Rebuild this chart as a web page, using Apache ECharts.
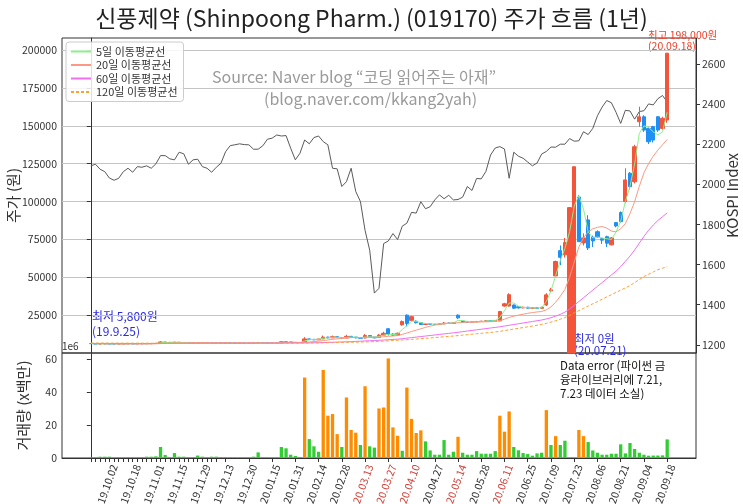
<!DOCTYPE html>
<html><head><meta charset="utf-8">
<script src="https://cdn.jsdelivr.net/npm/echarts@6/dist/echarts.min.js"></script>
<style>html,body{margin:0;padding:0;background:#fff}#c{width:743px;height:504px}</style>
</head><body><div id="c"></div>
<script>
const dates = ['19.09.20','19.09.24','19.09.26','19.09.30','19.10.02','19.10.07','19.10.10','19.10.14','19.10.16','19.10.18',
'19.10.22','19.10.24','19.10.28','19.10.30','19.11.01','19.11.05','19.11.07','19.11.11','19.11.13','19.11.15',
'19.11.19','19.11.21','19.11.25','19.11.27','19.11.29','19.12.03','19.12.05','19.12.09','19.12.11','19.12.13',
'19.12.17','19.12.19','19.12.23','19.12.26','19.12.30','20.01.03','20.01.07','20.01.09','20.01.13','20.01.15',
'20.01.17','20.01.21','20.01.23','20.01.29','20.01.31','20.02.04','20.02.06','20.02.10','20.02.12','20.02.14',
'20.02.18','20.02.20','20.02.24','20.02.26','20.02.28','20.03.03','20.03.05','20.03.09','20.03.11','20.03.13',
'20.03.17','20.03.19','20.03.23','20.03.25','20.03.27','20.03.31','20.04.02','20.04.06','20.04.08','20.04.10',
'20.04.14','20.04.17','20.04.21','20.04.23','20.04.27','20.04.29','20.05.06','20.05.08','20.05.12','20.05.14',
'20.05.18','20.05.20','20.05.22','20.05.26','20.05.28','20.06.01','20.06.03','20.06.05','20.06.09','20.06.11',
'20.06.15','20.06.17','20.06.19','20.06.23','20.06.25','20.06.29','20.07.01','20.07.03','20.07.07','20.07.09',
'20.07.13','20.07.15','20.07.17','20.07.21','20.07.23','20.07.27','20.07.29','20.07.31','20.08.04','20.08.06',
'20.08.10','20.08.12','20.08.14','20.08.19','20.08.21','20.08.25','20.08.27','20.08.31','20.09.02','20.09.04',
'20.09.08','20.09.10','20.09.14','20.09.16','20.09.18'];

const tickLabels = ['19.10.02','19.10.18','19.11.01','19.11.15','19.11.29','19.12.13','19.12.30','20.01.15','20.01.31',
'20.02.14','20.02.28','20.03.13','20.03.27','20.04.10','20.04.27','20.05.14','20.05.28','20.06.11','20.06.25',
'20.07.09','20.07.23','20.08.06','20.08.21','20.09.04','20.09.18'];
const redTickLabels = ['20.03.13','20.03.27','20.04.10','20.05.14','20.06.11'];
const priceTicks = [25000,50000,75000,100000,125000,150000,175000,200000];
const kospiTicks = [1200,1400,1600,1800,2000,2200,2400,2600];
const volumeTicks = [0,20,40,60];

const opens = [6250,6100,6000,6050,6050,6000,5950,6000,6100,6100,
6050,6100,6150,6200,6250,6500,7200,7000,6800,7100,
6900,6800,6700,6650,6700,6800,6650,6600,6650,6600,
6650,6600,6550,6550,6500,6550,6600,6900,6700,6650,
6600,6700,7400,7300,7000,6900,7300,9300,9000,8700,
9300,10500,10000,10800,10200,9900,11000,10500,10000,9900,
11500,10500,10200,11800,16000,12500,11800,18600,25000,21500,
21000,20000,18800,19300,19000,18800,19200,19800,19500,25000,
21000,20500,20300,20600,20800,21000,21300,21000,21200,31000,
31000,31700,30500,29800,30200,29600,29800,29500,31700,41000,
50900,67600,64800,0,0,103000,72700,87900,76500,80100,
75500,76800,71400,86100,92700,100000,118700,113100,152700,156000,
148300,149400,156000,148300,153800];
const closes = [6200,6000,6000,6050,6000,5950,6000,6100,6100,6050,
6100,6150,6200,6200,6400,7300,7000,6800,7100,6900,
6800,6700,6650,6700,6800,6650,6600,6650,6600,6650,
6600,6550,6550,6500,6550,6600,6900,6700,6650,6600,
6650,7400,7300,7000,6900,6950,9300,9000,8700,9200,
10500,10000,10800,10200,9800,11000,10500,10000,9800,11500,
10500,10000,11800,13000,12500,11800,13000,20800,19500,24000,
20000,18800,19300,19000,18800,19200,19800,19500,19900,23200,
20500,20300,20600,20800,21000,21300,21000,21500,27400,32500,
38500,29600,29800,30200,29600,29800,29500,30200,38400,41700,
60400,63200,72900,96000,123000,73500,76000,69400,74000,76800,
74500,72500,76000,83900,86800,114300,109800,136200,156000,147200,
139500,140600,147200,155000,198000];
const lows = [6100,5900,5900,5950,5950,5900,5900,5950,6050,6000,
6000,6050,6100,6150,6200,6400,6900,6700,6750,6850,
6750,6650,6600,6600,6650,6600,6550,6550,6550,6550,
6550,6500,6500,6450,6450,6500,6550,6650,6600,6550,
6550,6650,7100,6900,6800,6850,7200,8700,8500,8600,
9200,9700,9800,10000,9600,9800,10300,9800,9600,9800,
10300,9700,10100,11500,11500,11200,11500,18000,17500,21000,
19500,18500,18500,18700,18500,18600,19000,19300,19300,22500,
20200,20000,20100,20400,20500,20800,20800,20800,21000,30500,
30700,29000,29300,29500,29200,29300,29200,29300,31000,40000,
50000,58000,63000,0,0,73500,71000,68000,70000,76000,
72000,70000,71000,83000,86000,98900,108000,112000,149400,146000,
138000,139000,146000,147500,152000];
const highs = [6300,6150,6100,6150,6100,6050,6050,6150,6200,6150,
6150,6200,6300,6250,6500,7800,7300,7050,7400,7150,
6950,6850,6750,6750,6900,6800,6700,6700,6700,6700,
6700,6650,6600,6600,6600,6650,7100,6950,6750,6700,
6700,7700,7600,7300,7050,7050,10500,9500,9100,9400,
11500,10700,11500,10900,10300,12000,11200,10600,10100,12500,
11600,10600,12500,14000,16500,13000,13500,21500,25500,24500,
21500,20500,19600,19500,19200,19500,20500,20000,20300,25500,
21300,20800,20900,21200,21300,21600,21500,21800,27800,33100,
39500,32000,31000,30600,30500,30100,30000,30500,39500,43000,
61000,71000,76000,96000,123000,104400,79000,91000,77500,81000,
76000,77500,76500,86500,93500,122000,119500,137500,162600,157000,
149000,150000,156500,156000,198000];

const volumes = [0.4,0.5,0.8,0.8,0.8,0.3,0.3,0.3,0.5,0.3,
0.3,0.5,0.8,0.8,1.0,6.7,1.8,0.6,3.0,0.8,
0.8,0.5,0.5,1.5,0.8,0.5,0.8,0.8,0.5,0.5,
0.5,0.5,0.5,0.5,0.5,0.8,3.4,0.5,0.5,0.2,
0.3,6.7,5.9,2.0,1.2,0.6,48.9,11.5,7.1,3.8,
53.5,25.7,26.7,14.5,6.7,36.8,17.0,15.4,7.9,43.6,
7.1,6.3,30.1,30.7,60.5,18.6,13.5,4.4,42.8,23.8,
15.2,16.8,10.1,4.6,2.0,2.0,10.9,2.0,3.8,12.9,
3.2,2.0,2.0,4.2,2.6,2.6,2.6,4.2,25.7,16.0,
28.3,6.7,4.7,3.0,2.4,1.4,2.8,3.2,29.1,7.9,
13.3,7.9,10.5,null,null,17.0,13.3,9.7,4.6,3.2,
2.0,2.0,2.6,2.6,8.3,2.8,9.1,5.5,3.2,2.0,
1.4,1.5,1.5,1.6,11.3];

const kospi = [2093,2101,2076,2064,2032,2021,2031,2064,2081,2061,
2089,2086,2093,2081,2103,2144,2144,2128,2123,2161,
2153,2101,2123,2126,2089,2081,2061,2086,2106,2164,
2194,2198,2203,2199,2198,2176,2176,2193,2226,2231,
2247,2242,2244,2181,2123,2156,2222,2203,2234,2242,
2214,2198,2081,2078,1990,2014,2081,1965,1915,1771,
1672,1458,1482,1705,1718,1755,1725,1792,1807,1861,
1857,1914,1879,1889,1923,1948,1929,1946,1923,1925,
1937,1990,1970,2030,2028,2065,2147,2182,2189,2177,
2031,2161,2141,2131,2112,2093,2107,2152,2165,2187,
2186,2201,2201,2229,2216,2218,2263,2249,2280,2343,
2386,2419,2408,2360,2305,2370,2367,2326,2364,2368,
2402,2397,2428,2444,2412];

const ma5 = [6200,6150,6080,6030,6020,6000,5990,6020,6060,6080,
6080,6110,6150,6190,6280,6700,6950,7000,6980,6950,
6900,6800,6720,6690,6720,6720,6670,6630,6620,6630,
6620,6590,6560,6530,6530,6560,6700,6740,6720,6650,
6630,6900,7150,7200,7050,6950,7900,8700,9000,9000,
9800,10000,10400,10400,10100,10300,10500,10500,10100,10500,
10700,10500,10800,11800,12300,12200,12500,15500,18000,21000,
21000,20000,19500,19300,19000,19000,19400,19600,19800,21500,
21500,20800,20500,20600,20800,21100,21200,21300,23500,28000,
33000,33000,31000,30000,29900,29800,29700,29900,34000,41000,
51000,61000,69000,80000,97000,104000,95000,80000,76000,76500,
76000,75500,75000,80000,87000,100000,110000,125000,145000,150000,
149000,146000,144000,146000,159000];
const ma20 = [6300,6280,6250,6220,6180,6150,6120,6100,6090,6080,
6070,6070,6080,6100,6130,6250,6350,6430,6520,6600,
6660,6720,6780,6800,6800,6780,6750,6720,6690,6670,
6650,6630,6610,6590,6580,6570,6580,6590,6600,6610,
6620,6680,6750,6800,6830,6860,7050,7300,7550,7800,
8200,8600,9000,9350,9650,9950,10150,10250,10250,10300,
10400,10400,10450,10700,11000,11200,11500,12300,13200,14200,
15100,16000,16900,17700,18400,19000,19500,19700,19700,20000,
20200,20300,20300,20400,20500,20600,20700,20800,21400,22300,
23500,24300,25000,25600,26200,26700,27100,27400,28500,30500,
33500,37500,42000,50000,60000,70000,76000,80000,82000,83000,
83500,82500,80500,80000,82000,85500,92000,100000,110000,119000,
125000,130000,134000,137500,141000];
const ma60 = [6250,6240,6230,6220,6210,6200,6200,6200,6200,6200,
6200,6210,6220,6230,6240,6260,6280,6300,6320,6340,
6360,6380,6400,6410,6420,6430,6440,6450,6450,6450,
6450,6460,6470,6480,6490,6500,6510,6520,6530,6540,
6550,6570,6590,6600,6610,6620,6650,6700,6750,6800,
6900,7000,7100,7200,7300,7400,7500,7650,7800,7950,
8100,8250,8400,8550,8750,8950,9150,9450,9800,10150,
10500,10850,11200,11550,11900,12250,12600,12950,13300,13700,
14100,14500,14900,15300,15700,16100,16500,16900,17300,17800,
18300,18800,19300,19800,20300,20800,21300,21800,22500,23300,
24300,25500,27000,29000,31500,34000,36500,39000,41500,44000,
46500,49000,51500,54000,57000,60500,64000,68000,72500,77000,
81000,84500,87500,90000,92500];
const ma120 = [6600,6590,6580,6570,6560,6550,6540,6530,6520,6510,
6500,6490,6480,6470,6460,6460,6460,6460,6460,6460,
6460,6460,6460,6460,6460,6460,6460,6460,6460,6460,
6460,6460,6460,6460,6460,6460,6470,6470,6480,6480,
6490,6500,6510,6520,6530,6540,6570,6600,6630,6660,
6700,6760,6820,6880,6940,7000,7080,7160,7240,7320,
7400,7550,7700,7850,8000,8200,8400,8600,8800,9000,
9200,9450,9700,9950,10200,10450,10700,10950,11200,11500,
11800,12100,12400,12700,13000,13300,13600,13900,14300,14800,
15300,15800,16300,16800,17300,17800,18300,18900,19600,20400,
21300,22300,23400,24800,26500,28000,29500,31000,32500,34000,
35500,37000,38500,40000,41500,43000,44500,46500,48500,50500,
52000,53500,55000,56000,57000];

const FONT = "'Noto Sans CJK KR','Noto Sans',sans-serif";
const labelIdx = tickLabels.map(d => dates.indexOf(d));
const tickIdx = [];
for (let i = 0; i <= 27; i++) tickIdx.push(i);
labelIdx.forEach(i => { if (tickIdx.indexOf(i) < 0) tickIdx.push(i); });
const pair = arr => arr.map((v, i) => [i, v]);
const plain = v => String(v);

const chart = echarts.init(document.getElementById('c'), null, {renderer: 'canvas'});
chart.setOption({
  animation: false,
  backgroundColor: '#fff',
  textStyle: {fontFamily: FONT},
  title: {text: '신풍제약 (Shinpoong Pharm.) (019170) 주가 흐름 (1년)', left: 'center', top: 2,
    textStyle: {fontSize: 23, fontWeight: 'normal', color: '#222', fontFamily: FONT}},
  legend: {
    orient: 'vertical', left: 66, top: 42,
    data: ['5일 이동평균선', '20일 이동평균선', '60일 이동평균선', '120일 이동평균선'],
    itemWidth: 20, itemHeight: 1, itemGap: 0.5,
    itemStyle: {opacity: 0},
    padding: [3, 6, 3, 4],
    borderColor: '#cccccc', borderWidth: 1, borderRadius: 3,
    backgroundColor: 'rgba(255,255,255,0.85)',
    textStyle: {fontSize: 11, color: '#333', fontFamily: FONT, lineHeight: 13}
  },
  grid: [
    {left: 62, right: 47, top: 38, height: 315, show: true, borderColor: '#333', borderWidth: 1,
      backgroundColor: 'transparent', outerBoundsMode: 'none', containLabel: false},
    {left: 62, right: 47, top: 353, height: 105, show: true, borderColor: '#333', borderWidth: 1,
      backgroundColor: 'transparent', outerBoundsMode: 'none', containLabel: false}
  ],
  xAxis: [
    {type: 'value', gridIndex: 0, min: -6.2, max: 130.2, axisLine: {show: false}, axisTick: {show: false},
      axisLabel: {show: false}, splitLine: {show: false}},
    {type: 'value', gridIndex: 1, min: -6.2, max: 130.2,
      axisLine: {show: true, lineStyle: {color: '#333'}},
      axisTick: {show: true, customValues: tickIdx, length: 4, lineStyle: {color: '#333'}},
      axisLabel: {show: true, customValues: labelIdx, rotate: 70, margin: 5, verticalAlign: 'top',
        formatter: v => { const d = dates[Math.round(v)]; return redTickLabels.indexOf(d) >= 0 ? '{r|' + d + '}' : '{n|' + d + '}'; },
        rich: {r: {color: '#d0453d', fontSize: 10.5, fontFamily: FONT}, n: {color: '#333', fontSize: 10.5, fontFamily: FONT}}},
      splitLine: {show: false}}
  ],
  yAxis: [
    {type: 'value', gridIndex: 0, position: 'left', min: 0, max: 208000, interval: 25000,
      name: '주가 (원)', nameLocation: 'middle', nameGap: 41, nameRotate: 90, nameMoveOverlap: false,
      nameTextStyle: {fontSize: 15, color: '#333', fontFamily: FONT},
      axisLine: {show: true, lineStyle: {color: '#333'}},
      axisTick: {show: true, length: 4, customValues: priceTicks, lineStyle: {color: '#333'}},
      axisLabel: {fontSize: 10.5, color: '#333', customValues: priceTicks, margin: 5, formatter: plain},
      splitLine: {show: true, lineStyle: {color: '#c4c4c4', width: 1}}},
    {type: 'value', gridIndex: 0, position: 'right', min: 1159, max: 2731,
      name: 'KOSPI Index', nameLocation: 'middle', nameGap: 29, nameRotate: 90, nameMoveOverlap: false,
      nameTextStyle: {fontSize: 15, color: '#333', fontFamily: FONT},
      axisLine: {show: true, lineStyle: {color: '#333'}},
      axisTick: {show: true, length: 4, customValues: kospiTicks, lineStyle: {color: '#333'}},
      axisLabel: {fontSize: 10.5, color: '#333', margin: 6, customValues: kospiTicks, formatter: plain},
      splitLine: {show: false}},
    {type: 'value', gridIndex: 1, position: 'left', min: 0, max: 63.8, interval: 20,
      name: '거래량 (x백만)', nameLocation: 'middle', nameGap: 31, nameRotate: 90, nameMoveOverlap: false,
      nameTextStyle: {fontSize: 15, color: '#333', fontFamily: FONT},
      axisLine: {show: true, lineStyle: {color: '#333'}},
      axisTick: {show: true, length: 4, customValues: volumeTicks, lineStyle: {color: '#333'}},
      axisLabel: {fontSize: 10.5, color: '#333', customValues: volumeTicks, margin: 5, formatter: plain},
      splitLine: {show: false}}
  ],
  series: [
    {name: 'KOSPI', type: 'line', xAxisIndex: 0, yAxisIndex: 1, data: pair(kospi), symbol: 'none',
      lineStyle: {color: '#5a5a5a', width: 1}, z: 1},
    {name: 'candles', type: 'candlestick', xAxisIndex: 0, yAxisIndex: 0, barWidth: 3.8,
      data: dates.map((d, i) => [i, opens[i], closes[i], lows[i], highs[i]]),
      itemStyle: {color: '#f4553a', color0: '#1e8ff5', borderColor: '#f4553a', borderColor0: '#1e8ff5', borderWidth: 1}, z: 2},
    {name: '5일 이동평균선', type: 'line', xAxisIndex: 0, yAxisIndex: 0, data: pair(ma5), symbol: 'none',
      lineStyle: {color: '#8cf08c', width: 1}, itemStyle: {color: '#8cf08c'}, z: 3},
    {name: '20일 이동평균선', type: 'line', xAxisIndex: 0, yAxisIndex: 0, data: pair(ma20), symbol: 'none',
      lineStyle: {color: '#fa9a82', width: 1}, itemStyle: {color: '#fa9a82'}, z: 3},
    {name: '60일 이동평균선', type: 'line', xAxisIndex: 0, yAxisIndex: 0, data: pair(ma60), symbol: 'none',
      lineStyle: {color: '#f070f0', width: 1}, itemStyle: {color: '#f070f0'}, z: 3},
    {name: '120일 이동평균선', type: 'line', xAxisIndex: 0, yAxisIndex: 0, data: pair(ma120), symbol: 'none',
      lineStyle: {color: '#ffa030', width: 1, type: [3, 2]}, itemStyle: {color: '#ffa030'}, z: 3},
    {name: 'volume', type: 'bar', xAxisIndex: 1, yAxisIndex: 2, barWidth: 3.3,
      data: volumes.map((v, i) => ({value: [i, v], itemStyle: {color: v >= 12 ? '#ff8c00' : '#32cd32'}}))}
  ],
  graphic: [
    {type: 'text', left: 212, top: 69, style: {text: 'Source: Naver blog “코딩 읽어주는 아재”', fontSize: 16, fill: '#9a9a9a', fontFamily: FONT}},
    {type: 'text', left: 264, top: 91, style: {text: '(blog.naver.com/kkang2yah)', fontSize: 16, fill: '#9a9a9a', fontFamily: FONT}},
    {type: 'text', left: 92, top: 309, style: {text: '최저 5,800원\n(19.9.25)', fontSize: 12, lineHeight: 15, fill: '#2a2ae0', fontFamily: FONT}},
    {type: 'text', left: 648, top: 30, style: {text: '최고 198,000원\n(20.09.18)', fontSize: 10.5, lineHeight: 11, fill: '#f0402a', fontFamily: FONT}},
    {type: 'text', left: 574, top: 333, style: {text: '최저 0원\n(20.07.21)', fontSize: 11.5, lineHeight: 12, fill: '#2a2ae0', fontFamily: FONT}},
    {type: 'text', left: 560, top: 359, style: {text: 'Data error (파이썬 금\n융라이브러리에 7.21,\n7.23 데이터 소실)', fontSize: 11.5, lineHeight: 13.7, fill: '#111', fontFamily: FONT}},
    {type: 'text', left: 62, top: 341, style: {text: '1e6', fontSize: 10, fill: '#333', fontFamily: FONT}}
  ]
});
</script></body></html>
